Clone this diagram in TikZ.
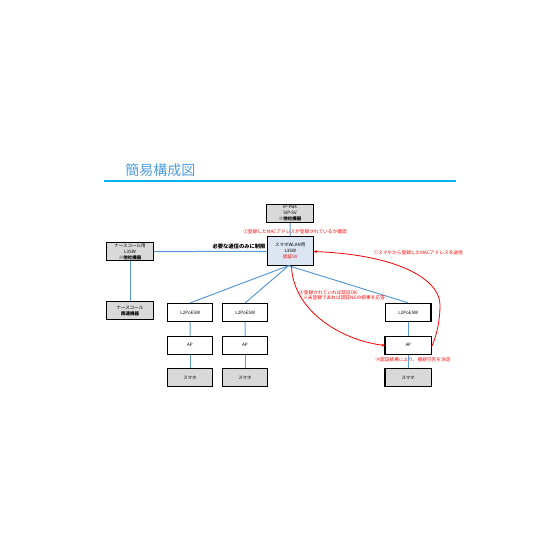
\documentclass[tikz,border=0pt]{standalone}
\usepackage{fontspec}
\setmainfont{Noto Sans CJK JP}
\usetikzlibrary{arrows.meta}
\definecolor{lnblue}{RGB}{91,155,213}
\definecolor{ttlblue}{RGB}{80,158,222}
\definecolor{rulecyan}{RGB}{0,176,240}
\definecolor{boxgray}{RGB}{217,217,217}
\definecolor{boxblue}{RGB}{220,230,242}
\begin{document}
\begin{tikzpicture}[x=1pt,y=-1pt,
  devbox/.style={draw=black,line width=1.2pt,minimum width=45pt,minimum height=18pt,inner sep=0pt,align=center,font=\fontsize{4.5}{6}\selectfont},
  graybox/.style={devbox,fill=boxgray},
  link/.style={draw=lnblue,line width=1pt},
  redlink/.style={draw=red,line width=0.8pt,-{Stealth[length=3.5pt,width=3pt]}},
  redtxt/.style={text=red,font=\fontsize{4.7}{5.5}\selectfont,inner sep=0pt}]
\useasboundingbox (0,0) rectangle (560,560);
% title
\node[text=ttlblue,font=\fontsize{14}{16}\selectfont,inner sep=0pt] (title) at (160.3,169.7) {簡易構成図};
\coordinate (rl) at (104,181);
\coordinate (rr) at (456,181);
\draw[rulecyan,line width=2pt] (rl) -- (rr);
% boxes
\node[graybox,minimum width=46.6pt] (pbx) at (290,213.3) {IP-PBX\\SIP-SV\\\textbf{※他社機器}};
\node[devbox,fill=boxblue,minimum width=46pt,minimum height=29pt] (core) at (290.3,251.2) {スマホWLAN用\\L3SW\\\textcolor{red}{認証SV}};
\node[graybox,minimum width=46.6pt] (ns) at (130,251.7) {ナースコール用\\L3SW\\\textbf{※他社機器}};
\node[graybox,minimum width=46.6pt] (nsr) at (130,310.8) {ナースコール\\\textbf{関連機器}};
\node[devbox] (l2a) at (190.2,312.5) {L2PoESW};
\node[devbox] (l2b) at (245.2,312.5) {L2PoESW};
\node[devbox,minimum width=45.5pt] (l2c) at (408.3,312.5) {L2PoESW};
\node[devbox] (apa) at (190,345.2) {AP};
\node[devbox] (apb) at (245,345.2) {AP};
\node[devbox,minimum width=46.5pt] (apc) at (408.3,345.2) {AP};
\node[graybox] (spa) at (190,377.5) {スマホ};
\node[graybox] (spb) at (245,377.5) {スマホ};
\node[graybox,minimum width=46.5pt] (spc) at (408.3,377.5) {スマホ};
% blue links
\coordinate (cb) at (288.5,265.7);
\draw[link] (pbx) -- (core);
\draw[link] (ns) -- (core);
\draw[link] (ns) -- (nsr);
\draw[link] (cb) -- (l2a.north);
\draw[link] (cb) -- (l2b.north);
\draw[link] (cb) -- (l2c.north);
\draw[link] (l2a) -- (apa);
\draw[link] (l2b) -- (apb);
\draw[link] (l2c) -- (apc);
\draw[link] (apa) -- (spa);
\draw[link] (apb) -- (spb);
\draw[link] (apc) -- (spc);
% red flows
\coordinate (cr) at (291.5,266.3);
\coordinate (apcw) at (385,345.5);
\coordinate (apce) at (431.5,347);
\coordinate (coree) at (313.5,251.5);
\draw[redlink] (cr) .. controls (293,310) and (340,340) .. (apcw);
\draw[redlink] (apce) .. controls (437,335) and (440,320) .. (440,305) .. controls (440,280) and (400,255) .. (coree);
% labels
\node[font=\fontsize{5.3}{6}\selectfont\bfseries,anchor=east,inner sep=0pt] (lim) at (265.7,246.3) {必要な通信のみに制限};
\node[redtxt] (t2) at (295,231.7) {②登録したMACアドレスが登録されているか確認};
\node[redtxt,anchor=west] (t1) at (373.3,252.5) {①スマホから登録したMACアドレスを送信};
\node[redtxt,anchor=west] (t3a) at (299,292.8) {③登録されていれば認証OK};
\node[redtxt,anchor=west] (t3b) at (303,297.8) {※未登録であれば認証NGの結果を応答};
\node[redtxt] (t4) at (413,359.3) {④認証結果により、接続可否を決定};
\end{tikzpicture}
\end{document}
